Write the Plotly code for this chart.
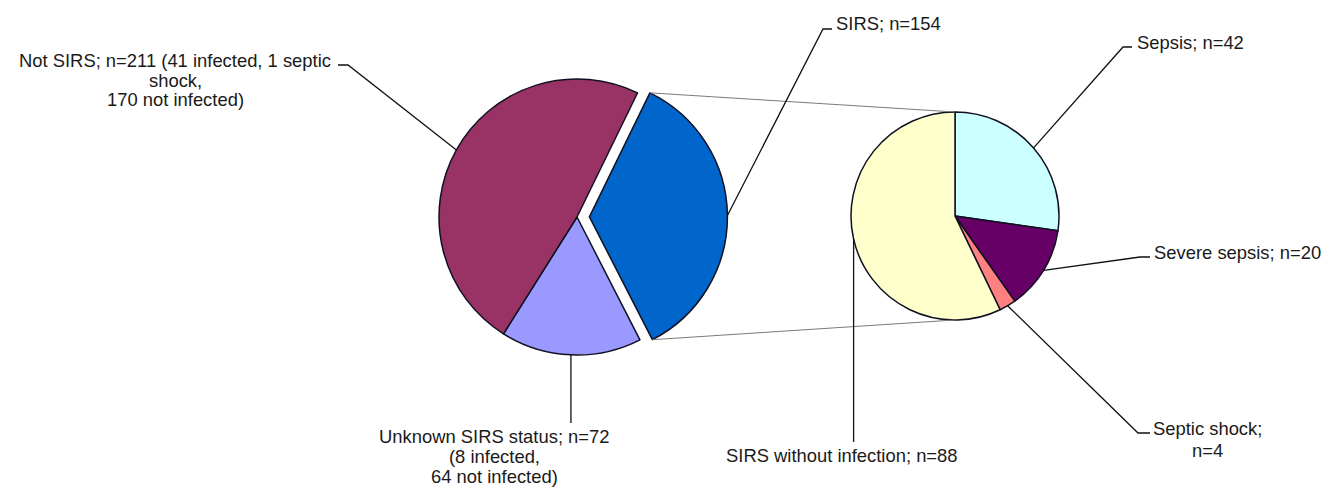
import math
import plotly.graph_objects as go

# ---------------- data ----------------
main_labels = ["SIRS", "Unknown SIRS status", "Not SIRS"]
main_values = [154, 72, 211]
main_colors = ["#0066CC", "#9999FF", "#993366"]
main_pull = [0.09, 0, 0]

sub_labels = ["Sepsis", "Severe sepsis", "Septic shock", "SIRS without infection"]
sub_values = [42, 20, 4, 88]
sub_colors = ["#CCFFFF", "#660066", "#FF8080", "#FFFFCC"]

# ---------------- layout geometry (pixels) ----------------
W, H = 1321, 487
MAIN_CX, MAIN_CY, MAIN_R, MAIN_ROT = 577, 217, 138, 26
SUB_CX, SUB_CY, SUB_R, SUB_ROT = 955, 216, 104, 0


def X(px):
    return px / W


def Y(py):
    return 1 - py / H


def angle_of(values, idx, rotation, frac):
    total = sum(values)
    start = rotation + 360.0 * sum(values[:idx]) / total
    return start + 360.0 * values[idx] * frac / total


def point(cx, cy, r, ang):
    a = math.radians(ang)
    return cx + r * math.sin(a), cy - r * math.cos(a)


def slice_center(cx, cy, r, values, idx, rotation, pull):
    mid = angle_of(values, idx, rotation, 0.5)
    return point(cx, cy, r * pull, mid)


def edge(cx, cy, r, values, idx, rotation, pull=0.0, frac=0.5):
    ccx, ccy = slice_center(cx, cy, r, values, idx, rotation, pull)
    return point(ccx, ccy, r, angle_of(values, idx, rotation, frac))


fig = go.Figure()

mp = max(main_pull)
half = MAIN_R * (1 + mp)
fig.add_trace(go.Pie(
    labels=main_labels, values=main_values, sort=False, direction="clockwise",
    rotation=MAIN_ROT, pull=main_pull, textinfo="none", hoverinfo="skip",
    marker=dict(colors=main_colors, line=dict(color="#101020", width=1.5)),
    domain=dict(x=[X(MAIN_CX - half), X(MAIN_CX + half)],
                y=[Y(MAIN_CY + half), Y(MAIN_CY - half)]),
    showlegend=False,
))

fig.add_trace(go.Pie(
    labels=sub_labels, values=sub_values, sort=False, direction="clockwise",
    rotation=SUB_ROT, textinfo="none", hoverinfo="skip",
    marker=dict(colors=sub_colors, line=dict(color="#101020", width=1.5)),
    domain=dict(x=[X(SUB_CX - SUB_R), X(SUB_CX + SUB_R)],
                y=[Y(SUB_CY + SUB_R), Y(SUB_CY - SUB_R)]),
    showlegend=False,
))

shapes = []


def path(points, color="#111111", width=1.3):
    d = "M " + " L ".join(f"{X(px):.6f},{Y(py):.6f}" for px, py in points)
    shapes.append(dict(type="path", path=d, xref="paper", yref="paper",
                       line=dict(color=color, width=width)))


# connector lines from exploded SIRS slice to secondary pie
sirs_idx = 0
top_corner = edge(MAIN_CX, MAIN_CY, MAIN_R, main_values, sirs_idx, MAIN_ROT, main_pull[0], 0.0)
bot_corner = edge(MAIN_CX, MAIN_CY, MAIN_R, main_values, sirs_idx, MAIN_ROT, main_pull[0], 1.0)
path([top_corner, (SUB_CX, SUB_CY - SUB_R)], color="#7a7a7a", width=1)
path([bot_corner, (SUB_CX, SUB_CY + SUB_R)], color="#7a7a7a", width=1)

# leader lines
e = edge(MAIN_CX, MAIN_CY, MAIN_R, main_values, 2, MAIN_ROT)
path([(338, 65), (348, 65), e])
e = edge(MAIN_CX, MAIN_CY, MAIN_R, main_values, 0, MAIN_ROT, main_pull[0])
path([(832, 29), (823, 29), e])
e = edge(MAIN_CX, MAIN_CY, MAIN_R, main_values, 1, MAIN_ROT)
path([e, (e[0], 423)])

e = edge(SUB_CX, SUB_CY, SUB_R, sub_values, 0, SUB_ROT)
path([(1132, 47), (1123, 47), e])
e = edge(SUB_CX, SUB_CY, SUB_R, sub_values, 1, SUB_ROT)
path([(1150, 257), (1140, 257), e])
e = edge(SUB_CX, SUB_CY, SUB_R, sub_values, 2, SUB_ROT)
path([(1150, 433), (1138, 433), e])
e = edge(SUB_CX, SUB_CY, SUB_R, sub_values, 3, SUB_ROT)
path([e, (e[0], 442)])

FONT = dict(family="Liberation Sans, Arial, sans-serif", size=18.4, color="#1a1a1a")
annotations = []


def label(text, px, py, anchor="center"):
    annotations.append(dict(text=text, x=X(px), y=Y(py), xref="paper", yref="paper",
                            xanchor=anchor, yanchor="middle", showarrow=False,
                            font=FONT, borderpad=0))


label(f"Not SIRS; n={main_values[2]} (41 infected, 1 septic", 175, 60)
label("shock,", 175, 80)
label("170 not infected)", 175, 100)
label(f"SIRS; n={main_values[0]}", 835, 24, "left")
label(f"Unknown SIRS status; n={main_values[1]}", 494, 436)
label("(8 infected,", 494, 456)
label("64 not infected)", 494, 476)
label(f"Sepsis; n={sub_values[0]}", 1136, 42, "left")
label(f"Severe sepsis; n={sub_values[1]}", 1153, 252, "left")
label("Septic shock;", 1207, 428)
label(f"n={sub_values[2]}", 1207, 450)
label(f"SIRS without infection; n={sub_values[3]}", 842, 455)

fig.update_layout(
    width=W, height=H, margin=dict(l=0, r=0, t=0, b=0),
    paper_bgcolor="white", plot_bgcolor="white",
    shapes=shapes, annotations=annotations,
)

fig.write_html(
    "out.html",
    config={"displayModeBar": False},
    post_script="document.body.style.margin='0';document.body.style.padding='0';"
                "document.body.style.overflow='hidden';",
)
